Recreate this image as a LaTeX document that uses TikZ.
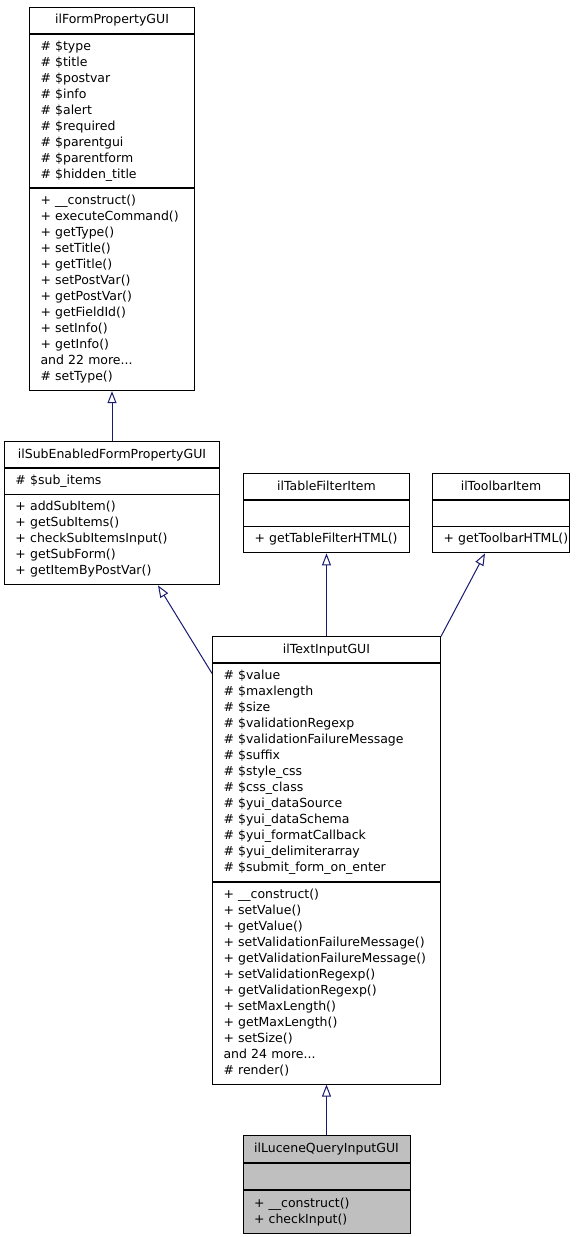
\documentclass[tikz,border=0pt]{standalone}
\usepackage{fontspec}
\newfontfamily\classfont{DejaVu Sans}
\usetikzlibrary{arrows.meta,shapes.multipart}
\definecolor{edgeblue}{RGB}{25,25,112}
\definecolor{leafgray}{RGB}{191,191,191}
\tikzstyle{classbox}=[rectangle split, rectangle split parts=3, draw,
  rectangle split draw splits=false,
  fill=white, line width=1pt, inner xsep=11pt, inner ysep=4.7pt,
  align=left, font=\classfont\fontsize{12.5pt}{16pt}\selectfont]
\tikzstyle{inherit}=[draw=edgeblue, line width=1pt,
  -{Triangle[length=12pt,width=9pt,fill=white]}]

\begin{document}
\begin{tikzpicture}[x=1pt,y=-1pt]
  \useasboundingbox (0,0) rectangle (584,1237);

  \node(form)[classbox,text width=143pt,anchor=north west] at (29,7) {
    \strut\hfill ilFormPropertyGUI\hfill\strut
    \nodepart{two}\strut
    \#~\$type\\
    \#~\$title\\
    \#~\$postvar\\
    \#~\$info\\
    \#~\$alert\\
    \#~\$required\\
    \#~\$parentgui\\
    \#~\$parentform\\
    \#~\$hidden\_title\strut
    \nodepart{three}\strut
    +~\_\_construct()\\
    +~executeCommand()\\
    +~getType()\\
    +~setTitle()\\
    +~getTitle()\\
    +~setPostVar()\\
    +~getPostVar()\\
    +~getFieldId()\\
    +~setInfo()\\
    +~getInfo()\\
    and 22 more...\\
    \#~setType()\strut
  };

  \path(form.south)+(0,50) node(sub)[classbox,text width=193pt,anchor=north]{
    \strut\hfill ilSubEnabledFormPropertyGUI\hfill\strut
    \nodepart{two}\strut
    \#~\$sub\_items\strut
    \nodepart{three}\strut
    +~addSubItem()\\
    +~getSubItems()\\
    +~checkSubItemsInput()\\
    +~getSubForm()\\
    +~getItemByPostVar()\strut
  };
  \draw[inherit] (sub.north) -- (form.south);

  \path(sub.north east)+(23,32) node(tfilter)[classbox,text width=144pt,anchor=north west]{
    \strut\hfill ilTableFilterItem\hfill\strut
    \nodepart{two}\strut
    \nodepart{three}\strut
    +~getTableFilterHTML()\strut
  };

  \path(tfilter.north east)+(22,0) node(toolbar)[classbox,text width=115pt,anchor=north west]{
    \strut\hfill ilToolbarItem\hfill\strut
    \nodepart{two}\strut
    \nodepart{three}\strut
    +~getToolbarHTML()\strut
  };

  \path(tfilter.south)+(0,83) node(textin)[classbox,text width=206pt,anchor=north]{
    \strut\hfill ilTextInputGUI\hfill\strut
    \nodepart{two}\strut
    \#~\$value\\
    \#~\$maxlength\\
    \#~\$size\\
    \#~\$validationRegexp\\
    \#~\$validationFailureMessage\\
    \#~\$suffix\\
    \#~\$style\_css\\
    \#~\$css\_class\\
    \#~\$yui\_dataSource\\
    \#~\$yui\_dataSchema\\
    \#~\$yui\_formatCallback\\
    \#~\$yui\_delimiterarray\\
    \#~\$submit\_form\_on\_enter\strut
    \nodepart{three}\strut
    +~\_\_construct()\\
    +~setValue()\\
    +~getValue()\\
    +~setValidationFailureMessage()\\
    +~getValidationFailureMessage()\\
    +~setValidationRegexp()\\
    +~getValidationRegexp()\\
    +~setMaxLength()\\
    +~getMaxLength()\\
    +~setSize()\\
    and 24 more...\\
    \#~render()\strut
  };
  \draw[inherit] (textin.north) -- (tfilter.south);
  \draw[inherit] (textin.north east) -- ([xshift=-16pt]toolbar.south);
  \draw[inherit] ([yshift=-37pt]textin.north west) -- ([xshift=-62pt]sub.south east);

  \path(textin.south)+(0,50) node(lucene)[classbox,fill=leafgray,text width=145pt,inner ysep=5.3pt,anchor=north]{
    \strut\hfill ilLuceneQueryInputGUI\hfill\strut
    \nodepart{two}\strut
    \nodepart{three}\strut
    +~\_\_construct()\\
    +~checkInput()\strut
  };
  \draw[inherit] (lucene.north) -- (textin.south);

  % compartment lines
  \foreach \c in {form,sub,tfilter,toolbar,textin,lucene}{
    \draw[line width=1.8pt] (\c.one split west) -- (\c.one split east);
    \draw[line width=1.8pt] (\c.two split west) -- (\c.two split east);
  }
\end{tikzpicture}
\end{document}
